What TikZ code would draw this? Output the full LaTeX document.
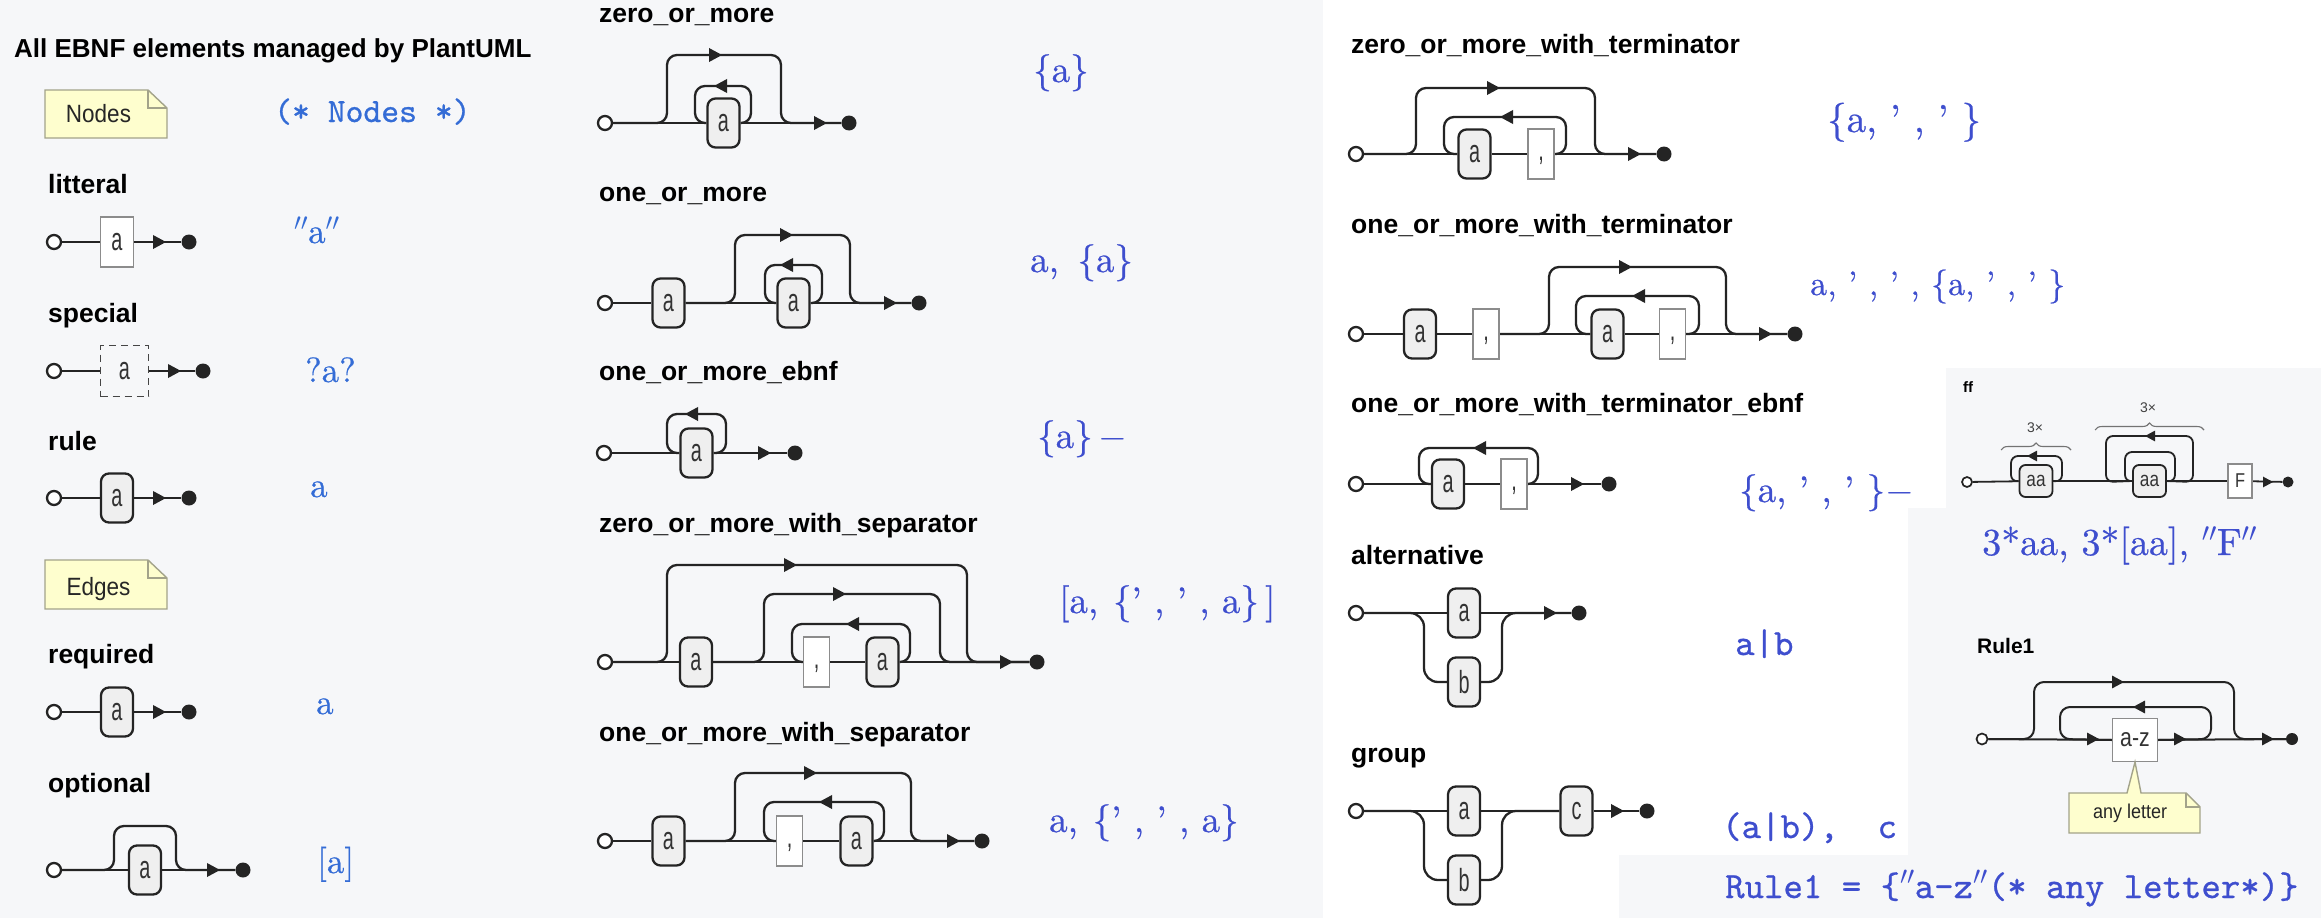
\documentclass[tikz,border=0pt]{standalone}
\usepackage{fix-cm}
\usepackage{fontspec}
\usetikzlibrary{decorations.pathreplacing}
\newfontfamily\lblf{Liberation Sans}
\newfontfamily\boxf[FakeStretch=0.62]{Liberation Sans}
\newfontfamily\boxfw[FakeStretch=0.82]{Liberation Sans}
\newfontfamily\notef[FakeStretch=0.9]{Liberation Sans}
\newfontfamily\lmten[FakeBold=0.6]{lmroman10-regular.otf}
\newfontfamily\lmtt[FakeBold=0.7]{lmmono10-regular.otf}
\definecolor{rc}{HTML}{242424}
\definecolor{boxfill}{HTML}{EFEFEF}
\definecolor{litc}{HTML}{8C8C8C}
\definecolor{notefill}{HTML}{FEFECE}
\definecolor{notedraw}{HTML}{A3A38A}
\definecolor{panel}{HTML}{F6F7F9}
\definecolor{blueA}{RGB}{52,108,214}
\definecolor{blueB}{RGB}{62,78,206}
\pgfdeclarelayer{panels}
\pgfdeclarelayer{lines}
\pgfsetlayers{panels,lines,main}
\newcommand\tipR[3][13]{\fill[rc] (#2,#3) -- ++(-#1,-#1*0.54) -- ++(0,#1*1.08) -- cycle;}
\newcommand\tipL[3][13]{\fill[rc] (#2,#3) -- ++(#1,-#1*0.54) -- ++(0,#1*1.08) -- cycle;}
\tikzset{
  lines/.style={draw=rc, line width=2.3pt},
  rail/.style={draw=rc, line width=2.3pt, rounded corners=10pt},
  srail/.style={draw=rc, line width=1.8pt, rounded corners=7pt},
  mrail/.style={draw=rc, line width=2pt, rounded corners=10pt},
  rbox/.style={draw=rc, line width=2.3pt, fill=boxfill, rounded corners=8pt, minimum width=32pt, minimum height=49pt, inner sep=0pt, font=\boxf\fontsize{32}{32}\selectfont, text=black!80},
  lbox/.style={draw=litc, line width=1.3pt, fill=white, minimum width=26pt, minimum height=50pt, inner sep=0pt, font=\boxf\fontsize{32}{32}\selectfont, text=black!80},
  sbox/.style={draw=rc!85, line width=1.5pt, dash pattern=on 7pt off 5pt, minimum width=48pt, minimum height=51pt, inner sep=0pt, font=\boxf\fontsize{32}{32}\selectfont, text=black!80},
  rboxs/.style={draw=rc, line width=1.8pt, fill=boxfill, rounded corners=6pt, minimum width=33pt, minimum height=32pt, inner sep=0pt, font=\boxfw\fontsize{21}{21}\selectfont, text=black!80},
  lboxs/.style={draw=litc, line width=1.2pt, fill=white, minimum width=24pt, minimum height=34pt, inner sep=0pt, font=\boxfw\fontsize{20}{20}\selectfont, text=black!80},
  startc/.style={circle, draw=rc, line width=2.3pt, fill=white, minimum size=14pt, inner sep=0pt},
  endc/.style={circle, fill=rc, minimum size=15pt, inner sep=0pt},
  startcs/.style={circle, draw=rc, line width=1.7pt, fill=white, minimum size=10pt, inner sep=0pt},
  endcs/.style={circle, fill=rc, minimum size=11pt, inner sep=0pt},
  lbl/.style={anchor=base west, inner sep=0pt, text=black, font=\lblf\bfseries\fontsize{26.5}{30}\selectfont},
  notebox/.style={draw=notedraw, line width=1.4pt, fill=notefill},
  notetxt/.style={anchor=base, inner sep=0pt, text=black!85, font=\notef\fontsize{25}{25}\selectfont},
  fA/.style={anchor=base west, inner sep=0pt, text=blueA, font=\lmten\fontsize{35}{38}\selectfont},
  fB/.style={anchor=base west, inner sep=0pt, text=blueB, font=\lmten\fontsize{#1}{#1}\selectfont},
  fB/.default=37,
  fM/.style={anchor=base west, inner sep=0pt, text=blueB, font=\lmtt\fontsize{#1}{#1}\selectfont},
  fM/.default=37,
  bracec/.style={draw=black!55, line width=1.1pt, decorate, decoration={brace, amplitude=7pt}},
  small/.style={inner sep=0pt, text=black!75, font=\lblf\fontsize{14}{14}\selectfont}
}
\begin{document}
\begin{tikzpicture}[x=1pt,y=-1pt]
\useasboundingbox (0,0) rectangle (2321,918);
\begin{pgfonlayer}{panels}
\fill[panel] (0,0) rectangle (1323,918);
\fill[white] (1323,0) rectangle (2321,918);
\fill[panel] (1946,368) -- (2321,368) -- (2321,918) -- (1619,918) -- (1619,855) -- (1908,855) -- (1908,508) -- (1946,508) -- cycle;
\end{pgfonlayer}

% ---------- column 1 ----------
\node[lbl, font=\lblf\bfseries\fontsize{26}{30}\selectfont] (title) at (14,57) {All EBNF elements managed by PlantUML};

\draw[notebox] (45,90) -- (148,90) -- (167,108) -- (167,138) -- (45,138) -- cycle;
\draw[notebox, fill=none] (148,90) -- (148,108) -- (167,108);
\node[notetxt] (nodesN) at (98.5,122) {Nodes};
\node[fA, font=\lmtt\fontsize{34}{34}\selectfont] (fNodes) at (274,122) {(* Nodes *)};

\node[lbl] (Llit) at (48,193) {litteral};
\node[startc] (s1) at (54,242) {};
\node[lbox, minimum width=33pt] (b1) at (117,242) {a};
\node[endc] (e1) at (189,242) {};
\node[fA] (f1) at (294,243) {$''$a$''$};

\node[lbl] (Lspe) at (48,322) {special};
\node[startc] (s2) at (54,371) {};
\node[sbox] (b2) at (124.5,371) {a};
\node[endc] (e2) at (203,371) {};
\node[fA] (f2) at (305,382) {?a?};

\node[lbl] (Lrule) at (48,450) {rule};
\node[startc] (s3) at (54,498) {};
\node[rbox] (b3) at (117,498) {a};
\node[endc] (e3) at (189,498) {};
\node[fA] (f3) at (310,497) {a};

\draw[notebox] (45,560) -- (148,560) -- (167,578) -- (167,609) -- (45,609) -- cycle;
\draw[notebox, fill=none] (148,560) -- (148,578) -- (167,578);
\node[notetxt] (edgesN) at (98.5,595) {Edges};

\node[lbl] (Lreq) at (48,663) {required};
\node[startc] (s4) at (54,712) {};
\node[rbox] (b4) at (117,712) {a};
\node[endc] (e4) at (189,712) {};
\node[fA] (f4) at (316,714) {a};

\node[lbl] (Lopt) at (48,792) {optional};
\node[startc] (s5) at (54,870) {};
\node[rbox] (b5) at (145,870) {a};
\node[endc] (e5) at (243,870) {};
\node[fA] (f5) at (317,873) {[a]};

% ---------- column 2 ----------
\node[lbl] (Lzom) at (599,22) {zero\_or\_more};
\node[startc] (s6) at (605,123) {};
\node[rbox] (b6) at (723.5,123) {a};
\node[endc] (e6) at (849,123) {};
\node[fB] (f6) at (1033,82) {\{a\}};

\node[lbl] (Loom) at (599,201) {one\_or\_more};
\node[startc] (s7) at (605,303) {};
\node[rbox] (b7a) at (668.5,303) {a};
\node[rbox] (b7b) at (793.5,303) {a};
\node[endc] (e7) at (919,303) {};
\node[fB] (f7) at (1030,272) {a,\hspace{0.5em}\{a\}};

\node[lbl] (Looe) at (599,380) {one\_or\_more\_ebnf};
\node[startc] (s8) at (604,453) {};
\node[rbox] (b8) at (696.5,453) {a};
\node[endc] (e8) at (795,453) {};
\node[fB] (f8) at (1037,448) {\{a\}\,$-$};

\node[lbl] (Lzws) at (599,532) {zero\_or\_more\_with\_separator};
\node[startc] (s9) at (605,662) {};
\node[rbox] (b9a) at (696,662) {a};
\node[lbox] (c9) at (816.5,662) {\vphantom{a},};
\node[rbox] (b9b) at (882.5,662) {a};
\node[endc] (e9) at (1037,662) {};
\node[fB] (f9) at (1059,613) {[a,\hspace{0.4em}\{’\ ,\ ’\ ,\ a\}\,]};

\node[lbl] (Lows) at (599,741) {one\_or\_more\_with\_separator};
\node[startc] (s10) at (605,841) {};
\node[rbox] (b10a) at (668.5,841) {a};
\node[lbox] (c10) at (789.5,841) {\vphantom{a},};
\node[rbox] (b10b) at (856.5,841) {a};
\node[endc] (e10) at (982,841) {};
\node[fB] (f10) at (1049,832) {a,\hspace{0.4em}\{’\ ,\ ’\ ,\ a\}};

% ---------- column 3 ----------
\node[lbl] (Lzwt) at (1351,53) {zero\_or\_more\_with\_terminator};
\node[startc] (s11) at (1356,154) {};
\node[rbox] (b11) at (1474.5,154) {a};
\node[lbox] (c11) at (1541,154) {\vphantom{a},};
\node[endc] (e11) at (1664,154) {};
\node[fB=39] (f11) at (1827,132) {\{a,\ ’\ ,\ ’\ \}};

\node[lbl] (Lowt) at (1351,233) {one\_or\_more\_with\_terminator};
\node[startc] (s12) at (1356,334) {};
\node[rbox] (b12a) at (1420,334) {a};
\node[lbox] (c12a) at (1486,334) {\vphantom{a},};
\node[rbox] (b12b) at (1607.5,334) {a};
\node[lbox] (c12b) at (1672.5,334) {\vphantom{a},};
\node[endc] (e12) at (1795,334) {};
\node[fB=34] (f12) at (1810,295) {a,\ ’\ ,\ ’\ ,\ \{a,\ ’\ ,\ ’\ \}};

\node[lbl] (Lowte) at (1351,412) {one\_or\_more\_with\_terminator\_ebnf};
\node[startc] (s13) at (1356,484) {};
\node[rbox] (b13) at (1448,484) {a};
\node[lbox] (c13) at (1514,484) {\vphantom{a},};
\node[endc] (e13) at (1609,484) {};
\node[fB=37] (f13) at (1739,502) {\{a,\ ’\ ,\ ’\ \}$-$};

\node[lbl] (Lalt) at (1351,564) {alternative};
\node[startc] (s14) at (1356,613) {};
\node[rbox] (b14a) at (1464,613) {a};
\node[rbox] (b14b) at (1464,682) {b};
\node[endc] (e14) at (1579,613) {};
\node[fM] (f14) at (1735,655) {a|b};

\node[lbl] (Lgrp) at (1351,762) {group};
\node[startc] (s15) at (1356,811) {};
\node[rbox] (b15a) at (1464,811) {a};
\node[rbox] (b15b) at (1464,880) {b};
\node[rbox] (c15) at (1576.5,811) {c};
\node[endc] (e15) at (1647,811) {};
\node[fM] (f15) at (1722,838) {(a|b),\ \ c};

% ---------- ff panel ----------
\node[lbl, font=\lblf\bfseries\fontsize{15}{15}\selectfont] (Lff) at (1963,392) {ff};
\node[startcs] (s16) at (1967,482) {};
\node[rboxs] (b16a) at (2036,481) {aa};
\node[rboxs] (b16b) at (2149.5,481) {aa};
\node[lboxs] (f16) at (2240,481) {F};
\node[endcs] (e16) at (2288,482) {};
\node[small] (n3a) at (2035,428) {3×};
\node[small] (n3b) at (2148,408) {3×};
\draw[bracec] (2001,450) -- (2071,450);
\draw[bracec] (2095,430) -- (2204,430);
\node[fB=38] (fff) at (1982,555) {3*aa, 3*[aa], $''$F$''$};

% ---------- Rule1 ----------
\node[lbl, font=\lblf\bfseries\fontsize{21}{21}\selectfont] (LR1) at (1977,653) {Rule1};
\node[startcs, minimum size=11pt] (s17) at (1982,739) {};
\node[lboxs, minimum width=45pt, minimum height=43pt, font=\boxfw\fontsize{26}{26}\selectfont] (b17) at (2135,740) {a-z};
\node[endcs, minimum size=12pt] (e17) at (2292,739) {};
\draw[notebox] (2069,793) -- (2127,793) -- (b17.south) -- (2141,793) -- (2186,793) -- (2200,807) -- (2200,833) -- (2069,833) -- cycle;
\draw[notebox, fill=none] (2186,793) -- (2186,807) -- (2200,807);
\node[inner sep=0pt, text=black!85, font=\notef\fontsize{20}{20}\selectfont] (anyl) at (2130,813) {any letter};
\node[fM] (fR1) at (1725,898) {Rule1 = \{$''$a-z$''$(* any letter*)\}};

% ---------- connectors ----------
\begin{pgfonlayer}{lines}
% column 1
\draw[lines] (s1) -- (b1); \draw[lines] (b1) -- (e1); \tipR{166}{242}
\draw[lines] (s2) -- (b2); \draw[lines] (b2) -- (e2); \tipR{181}{371}
\draw[lines] (s3) -- (b3); \draw[lines] (b3) -- (e3); \tipR{166}{498}
\draw[lines] (s4) -- (b4); \draw[lines] (b4) -- (e4); \tipR{166}{712}
\draw[lines] (s5) -- (b5); \draw[lines] (b5) -- (e5); \tipR{220}{870}
\draw[rail] (s5) -- (114,870) -- (114,826) -- (176,826) -- (176,870) -- (e5);
% zero_or_more
\draw[lines] (s6) -- (b6); \draw[lines] (b6) -- (e6); \tipR{827}{123}
\draw[rail] (s6) -- (667,123) -- (667,55) -- (781,55) -- (781,123) -- (e6); \tipR{722}{55}
\draw[rail] (b6.east) -- (751,123) -- (751,86) -- (695,86) -- (695,123) -- (b6.west); \tipL{714}{86}
% one_or_more
\draw[lines] (s7) -- (b7a); \draw[lines] (b7a) -- (b7b); \draw[lines] (b7b) -- (e7); \tipR{897}{303}
\draw[rail] (b7a) -- (735,303) -- (735,235) -- (850,235) -- (850,303) -- (e7); \tipR{793}{235}
\draw[rail] (b7b.east) -- (822,303) -- (822,265) -- (765,265) -- (765,303) -- (b7b.west); \tipL{780}{265}
% one_or_more_ebnf
\draw[lines] (s8) -- (b8); \draw[lines] (b8) -- (e8); \tipR{771}{453}
\draw[rail] (b8.east) -- (726,453) -- (726,414) -- (667,414) -- (667,453) -- (b8.west); \tipL{685}{414}
% zero_or_more_with_separator
\draw[lines] (s9) -- (b9a); \draw[lines] (b9a) -- (c9); \draw[lines] (c9) -- (b9b); \draw[lines] (b9b) -- (e9); \tipR{1013}{662}
\draw[rail] (s9) -- (667,662) -- (667,565) -- (967,565) -- (967,662) -- (e9); \tipR{797}{565}
\draw[rail] (b9a) -- (764,662) -- (764,594) -- (940,594) -- (940,662) -- (e9); \tipR{846}{594}
\draw[rail] (b9b.east) -- (910,662) -- (910,624) -- (792,624) -- (792,662) -- (c9.west); \tipL{846}{624}
% one_or_more_with_separator
\draw[lines] (s10) -- (b10a); \draw[lines] (b10a) -- (c10); \draw[lines] (c10) -- (b10b); \draw[lines] (b10b) -- (e10); \tipR{960}{841}
\draw[rail] (b10a) -- (735,841) -- (735,773) -- (911,773) -- (911,841) -- (e10); \tipR{817}{773}
\draw[rail] (b10b.east) -- (884,841) -- (884,802) -- (764,802) -- (764,841) -- (c10.west); \tipL{819}{802}
% zero_or_more_with_terminator
\draw[lines] (s11) -- (b11); \draw[lines] (b11) -- (c11); \draw[lines] (c11) -- (e11); \tipR{1641}{154}
\draw[rail] (s11) -- (1416,154) -- (1416,88) -- (1595,88) -- (1595,154) -- (e11); \tipR{1500}{88}
\draw[rail] (c11.east) -- (1566,154) -- (1566,117) -- (1444,117) -- (1444,154) -- (b11.west); \tipL{1500}{117}
% one_or_more_with_terminator
\draw[lines] (s12) -- (b12a); \draw[lines] (b12a) -- (c12a); \draw[lines] (c12a) -- (b12b); \draw[lines] (b12b) -- (c12b); \draw[lines] (c12b) -- (e12); \tipR{1772}{334}
\draw[rail] (c12a) -- (1549,334) -- (1549,267) -- (1726,267) -- (1726,334) -- (e12); \tipR{1632}{267}
\draw[rail] (c12b.east) -- (1699,334) -- (1699,296) -- (1576,296) -- (1576,334) -- (b12b.west); \tipL{1632}{296}
% one_or_more_with_terminator_ebnf
\draw[lines] (s13) -- (b13); \draw[lines] (b13) -- (c13); \draw[lines] (c13) -- (e13); \tipR{1584}{484}
\draw[rail] (c13.east) -- (1538,484) -- (1538,448) -- (1419,448) -- (1419,484) -- (b13.west); \tipL{1473}{448}
% alternative
\draw[lines] (s14) -- (b14a); \draw[lines] (b14a) -- (e14); \tipR{1557}{613}
\draw[rail, rounded corners=14pt] (s14) -- (1424,613) -- (1424,682) -- (b14b.west);
\draw[rail, rounded corners=14pt] (b14b.east) -- (1502,682) -- (1502,613) -- (e14);
% group
\draw[lines] (s15) -- (b15a); \draw[lines] (b15a) -- (c15); \draw[lines] (c15) -- (e15); \tipR{1624}{811}
\draw[rail, rounded corners=14pt] (s15) -- (1424,811) -- (1424,880) -- (b15b.west);
\draw[rail, rounded corners=14pt] (b15b.east) -- (1502,880) -- (1502,811) -- (c15);
% ff
\draw[lines, line width=1.8pt] (s16) -- (b16a); \draw[lines, line width=1.8pt] (b16a) -- (b16b);
\draw[lines, line width=1.8pt] (b16b) -- (f16); \draw[lines, line width=1.8pt] (f16) -- (e16); \tipR[10]{2273}{482}
\draw[srail] (b16a.east) -- (2062,482) -- (2062,456) -- (2011,456) -- (2011,482) -- (b16a.west); \tipL[10]{2027}{456}
\draw[srail] (b16b.east) -- (2193,482) -- (2193,436) -- (2106,436) -- (2106,482) -- (b16b.west); \tipL[10]{2145}{436}
\draw[srail] (b16b.east) -- (2175,482) -- (2175,452) -- (2125,452) -- (2125,482) -- (b16b.west);
% Rule1
\draw[lines, line width=2pt] (s17) -- (b17); \draw[lines, line width=2pt] (b17) -- (e17);
\tipR[12]{2099}{739} \tipR[12]{2186}{739} \tipR[12]{2274}{739}
\draw[mrail] (s17) -- (2034,739) -- (2034,682) -- (2234,682) -- (2234,739) -- (e17); \tipR[12]{2124}{682}
\draw[mrail] (b17.east) -- (2211,739) -- (2211,707) -- (2060,707) -- (2060,739) -- (b17.west); \tipL[12]{2133}{707}
\end{pgfonlayer}
\end{tikzpicture}
\end{document}
